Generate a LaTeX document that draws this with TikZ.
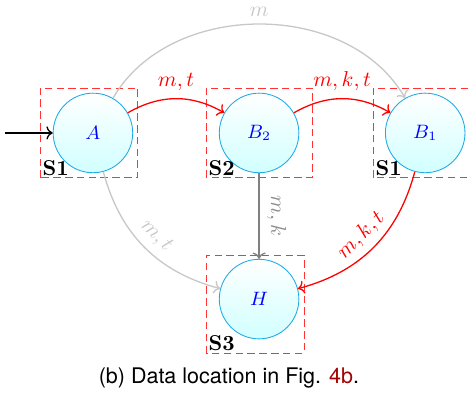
\documentclass[tikz,border=0pt]{standalone}
\usepackage{fontspec}
\newfontfamily\capfont{TeX Gyre Heros}
\usepackage{tikz}
\usetikzlibrary{positioning, arrows.meta}
\definecolor{statecyan}{RGB}{30,170,230}
\definecolor{linkred}{RGB}{165,0,0}

\begin{document}
\begin{tikzpicture}[node distance=14mm,
  state/.style={circle, draw=statecyan, top color=white, bottom color=cyan!18, minimum size=13mm, inner sep=0pt, text=blue, font=\small},
  region/.style={draw=red!80, dash pattern=on 3.5pt off 2pt},
  site/.style={anchor=south west, inner sep=1pt, font=\bfseries},
  arr/.style={-{To}, semithick},
  hot/.style={arr, red},
  cold/.style={arr, black!22, text=black!22},
  mid/.style={arr, black!50, text=black!45}]
\useasboundingbox (-43.2pt,-121.8pt) rectangle (174.8pt,61.8pt);
\node[state] (A) at (0,0) {$A$};
\node[state, right=of A] (B2) {$B_2$};
\node[state, right=of B2] (B1) {$B_1$};
\node[state, below=of B2] (H) {$H$};
\coordinate[left=22pt of A] (start);
% dashed site boxes
\draw[region] ([shift={(-24.6pt,-20.9pt)}]A.center) rectangle ([shift={(20.9pt,20.9pt)}]A.center);
\draw[region] ([shift={(-24.6pt,-20.9pt)}]B2.center) rectangle ([shift={(24.6pt,20.9pt)}]B2.center);
\draw[region] ([shift={(-24.2pt,-20.9pt)}]B1.center) rectangle ([shift={(24.6pt,20.9pt)}]B1.center);
\draw[region] ([shift={(-24.6pt,-25.1pt)}]H.center) rectangle ([shift={(20.9pt,20.5pt)}]H.center);
\node[site] (sA) at ([shift={(-24.6pt,-20.9pt)}]A.center) {S1};
\node[site] (sB2) at ([shift={(-24.6pt,-20.9pt)}]B2.center) {S2};
\node[site] (sB1) at ([shift={(-24.2pt,-20.9pt)}]B1.center) {S1};
\node[site] (sH) at ([shift={(-24.6pt,-25.1pt)}]H.center) {S3};
% transitions
\draw[arr] (start) -- (A);
\draw[cold] (A) to[bend left=60] node[above] {$m$} (B1);
\draw[hot] (A) to[bend left] node[above] {$m,t$} (B2);
\draw[hot] (B2) to[bend left] node[above] {$m,k,t$} (B1);
\draw[cold] (A) to[bend right] node[above, sloped] {$m,t$} (H);
\draw[mid] (B2) -- node[above, sloped] {$m,k$} (H);
\draw[hot] (B1) to[bend left] node[above, sloped] {$m,k,t$} (H);
\node[font=\capfont] (cap) at (63.2pt,-113.9pt) {(b) Data location in Fig. \textcolor{linkred}{4b}.};
\end{tikzpicture}
\end{document}
